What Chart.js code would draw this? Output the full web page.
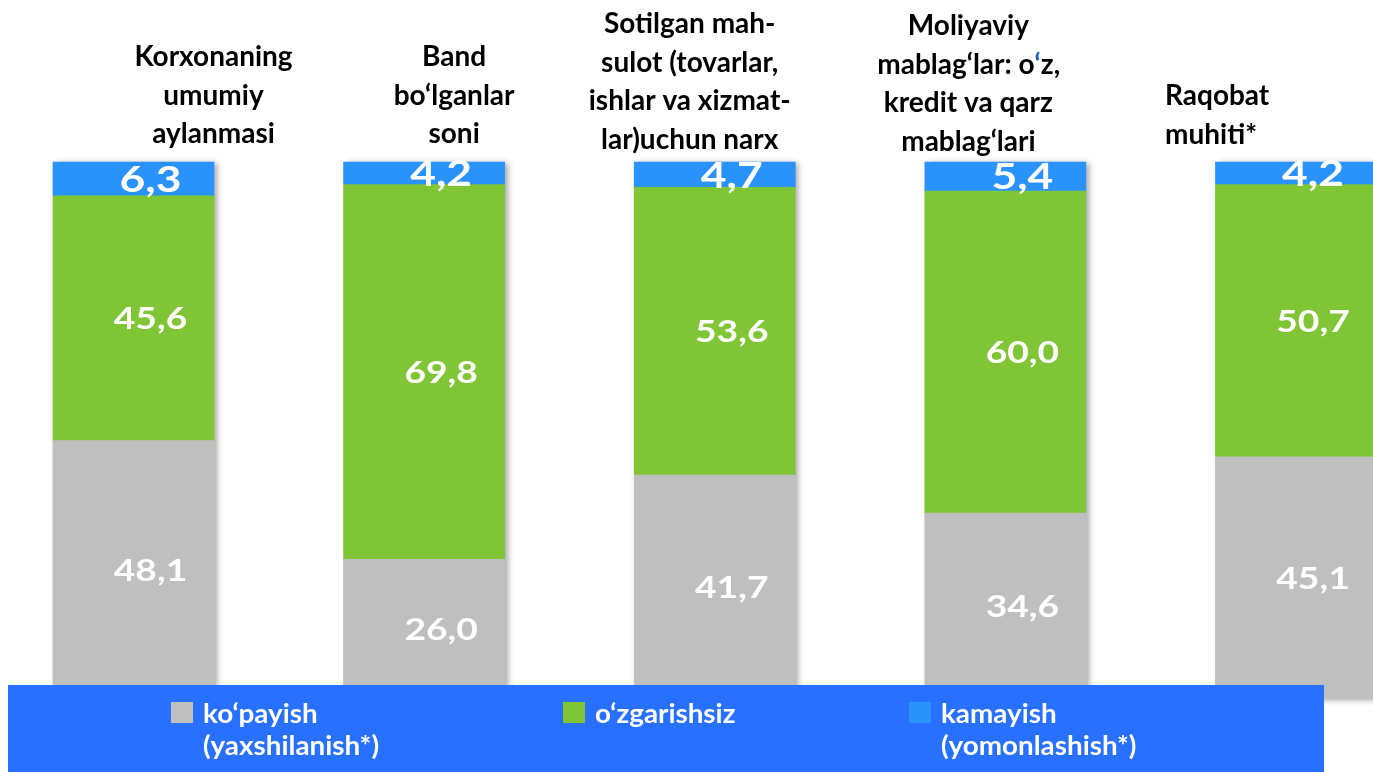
<!DOCTYPE html>
<html>
<head>
<meta charset="utf-8">
<script src="https://cdn.jsdelivr.net/npm/chart.js@4/dist/chart.umd.min.js"></script>
<style>
  html, body { margin: 0; padding: 0; background: #ffffff; overflow: hidden; }
  #wrap { width: 1373px; height: 772px; position: relative; }
</style>
</head>
<body>
<div id="wrap"><canvas id="c" width="1373" height="772"></canvas></div>
<script>
// Survey categories (multi-line headings drawn above each column)
const categories = [
  ["Korxonaning", "umumiy", "aylanmasi"],
  ["Band", "bo‘lganlar", "soni"],
  ["Sotilgan mah-", "sulot (tovarlar,", "ishlar va xizmat-", "lar)uchun narx"],
  ["Moliyaviy", "mablag‘lar: o‘z,", "kredit va qarz", "mablag‘lari"],
  ["Raqobat", "muhiti*"]
];

// Series names (legend lines)
const nameIncrease  = ["ko‘payish", "(yaxshilanish*)"];
const nameUnchanged = ["o‘zgarishsiz"];
const nameDecrease  = ["kamayish", "(yomonlashish*)"];

// Shares of answers, %
const increase  = [48.1, 26.0, 41.7, 34.6, 45.1];
const unchanged = [45.6, 69.8, 53.6, 60.0, 50.7];
const decrease  = [6.3, 4.2, 4.7, 5.4, 4.2];

// ---- styling / layout ----
const COLORS = { increase: "#BFBFBF", unchanged: "#80C535", decrease: "#2A93FB" };
const FONT = "Lato, 'Open Sans', sans-serif";
// heading placement relative to each column centre
const HEAD_LAYOUT = [
  { dx: 80,   y: 66,  align: "center" },
  { dx: 30,   y: 66,  align: "center" },
  { dx: -25,  y: 33,  align: "center" },
  { dx: -37,  y: 35,  align: "center" },
  { dx: -131, y: 105, align: "left" }
];
const HEAD_LINE = 38.5;
const ACCENT_COLOR = "#1F5FAF";
const LEGEND_BOX = { x: 8, y: 685, w: 1316, h: 87, color: "#2870FF" };
const LEGEND_ITEMS_X = [171, 563, 909];

function fmt(v) { return v.toFixed(1).replace(".", ","); }

function stretchedText(ctx, str, x, y, sx) {
  ctx.save();
  ctx.translate(x, y);
  ctx.scale(sx, 1);
  ctx.fillText(str, 0, 0);
  ctx.restore();
}

// soft shadow behind every whole column
const columnShadow = {
  id: "columnShadow",
  beforeDatasetsDraw(chart) {
    const ctx = chart.ctx;
    const bottomMeta = chart.getDatasetMeta(0);
    const topMeta = chart.getDatasetMeta(chart.data.datasets.length - 1);
    bottomMeta.data.forEach((el, i) => {
      const top = topMeta.data[i].y;
      const base = el.base;
      ctx.save();
      ctx.shadowColor = "rgba(0,0,0,0.35)";
      ctx.shadowBlur = 6;
      ctx.shadowOffsetX = 3;
      ctx.shadowOffsetY = 1;
      ctx.fillStyle = "#BFBFBF";
      ctx.fillRect(el.x - el.width / 2, top, el.width, base - top);
      ctx.restore();
    });
  }
};

// value labels inside every segment
const segmentLabels = {
  id: "segmentLabels",
  afterDatasetsDraw(chart) {
    const ctx = chart.ctx;
    const sizes = [31, 31, 37];
    chart.data.datasets.forEach((ds, d) => {
      const meta = chart.getDatasetMeta(d);
      meta.data.forEach((el, i) => {
        const cy = (el.y + el.base) / 2;
        ctx.save();
        ctx.fillStyle = "#FFFFFF";
        ctx.font = "bold " + sizes[d] + "px " + FONT;
        ctx.textAlign = "center";
        ctx.textBaseline = "middle";
        stretchedText(ctx, fmt(ds.data[i]), el.x + 17, cy + 1, 1.2);
        ctx.restore();
      });
    });
  }
};

// column headings
const headings = {
  id: "headings",
  afterDraw(chart) {
    const ctx = chart.ctx;
    const xs = chart.scales.x;
    ctx.save();
    ctx.font = "bold 28px " + FONT;
    ctx.textBaseline = "alphabetic";
    chart.data.labels.forEach((lines, i) => {
      const lay = HEAD_LAYOUT[i];
      const cx = xs.getPixelForValue(i) + lay.dx;
      lines.forEach((line, k) => {
        const y = lay.y + k * HEAD_LINE;
        const w = ctx.measureText(line).width;
        let x = lay.align === "left" ? cx : cx - w / 2;
        ctx.textAlign = "left";
        // the turned comma of "o‘z" is set in blue
        const accentAt = line.indexOf("o‘z");
        if (accentAt >= 0) {
          const a = accentAt + 1;
          const pre = line.slice(0, a), mid = line.slice(a, a + 1), post = line.slice(a + 1);
          ctx.fillStyle = "#000000";
          ctx.fillText(pre, x, y);
          x += ctx.measureText(pre).width;
          ctx.fillStyle = ACCENT_COLOR;
          ctx.fillText(mid, x, y);
          x += ctx.measureText(mid).width;
          ctx.fillStyle = "#000000";
          ctx.fillText(post, x, y);
        } else {
          ctx.fillStyle = "#000000";
          ctx.fillText(line, x, y);
        }
      });
    });
    ctx.restore();
  }
};

// legend band along the bottom
const legendBand = {
  id: "legendBand",
  afterDraw(chart) {
    const ctx = chart.ctx;
    ctx.save();
    ctx.fillStyle = LEGEND_BOX.color;
    ctx.fillRect(LEGEND_BOX.x, LEGEND_BOX.y, LEGEND_BOX.w, LEGEND_BOX.h);
    ctx.font = "bold 26px " + FONT;
    ctx.textAlign = "left";
    ctx.textBaseline = "alphabetic";
    chart.data.datasets.forEach((ds, d) => {
      const x = LEGEND_ITEMS_X[d];
      ctx.fillStyle = ds.backgroundColor;
      ctx.fillRect(x, 702, 22, 21);
      ctx.fillStyle = "#FFFFFF";
      ds.label.split("\n").forEach((line, k) => {
        stretchedText(ctx, line, x + 32, 723 + k * 32, 1.07);
      });
    });
    ctx.restore();
  }
};

new Chart(document.getElementById("c"), {
  type: "bar",
  data: {
    labels: categories,
    datasets: [
      { label: nameIncrease.join("\n"),  data: increase,  backgroundColor: COLORS.increase },
      { label: nameUnchanged.join("\n"), data: unchanged, backgroundColor: COLORS.unchanged },
      { label: nameDecrease.join("\n"),  data: decrease,  backgroundColor: COLORS.decrease }
    ].map(ds => Object.assign(ds, { barThickness: 161, borderWidth: 0, clip: false }))
  },
  options: {
    responsive: false,
    animation: false,
    devicePixelRatio: 1,
    layout: { padding: { left: 133.5, right: 77, top: 162, bottom: 73 } },
    scales: {
      x: { stacked: true, display: false, offset: false, grid: { display: false } },
      y: { stacked: true, display: false, min: 0, max: 100, grid: { display: false } }
    },
    plugins: { legend: { display: false }, tooltip: { enabled: false } }
  },
  plugins: [columnShadow, segmentLabels, headings, legendBand]
});
</script>
</body>
</html>
